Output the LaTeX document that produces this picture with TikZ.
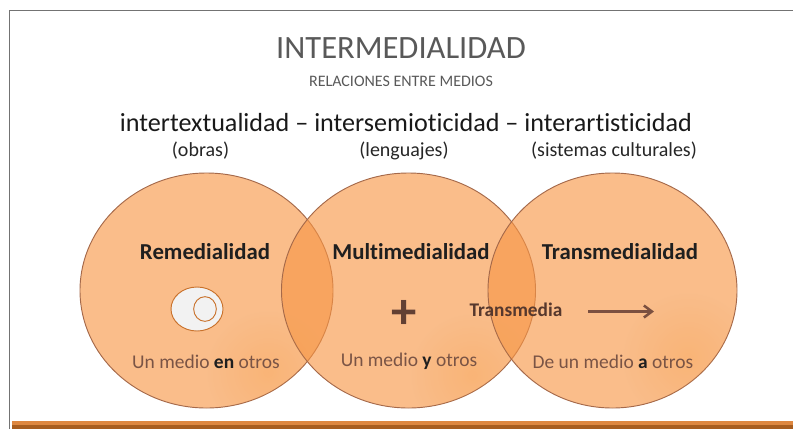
\documentclass[tikz,border=0pt]{standalone}
\usepackage{fontspec}
\setmainfont{Carlito}[Ligatures=NoCommon]
\usetikzlibrary{shapes.geometric,fadings,arrows.meta}
\definecolor{ringfill}{HTML}{F79646}
\definecolor{ringline}{HTML}{A5694A}
\definecolor{blotcol}{HTML}{F59A3C}
\definecolor{graytxt}{HTML}{595959}
\definecolor{darktxt}{HTML}{1F1F1F}
\definecolor{browntxt}{HTML}{7A5445}
\definecolor{arrowcol}{HTML}{7B5040}
\tikzfading[name=blotfade,inner color=transparent!75,outer color=transparent!100]
\newcommand{\pxsize}[1]{\fontsize{#1}{#1}\selectfont}
\tikzset{
	ring/.style={ellipse,draw=ringline,line width=0.7pt,fill=ringfill,fill opacity=0.63,inner sep=0pt},
	heading/.style={anchor=base,text=darktxt,font=\pxsize{17.1}\bfseries},
	caption/.style={anchor=base,text=browntxt,font=\pxsize{14.6}},
	sub/.style={anchor=base,text=black!85,font=\pxsize{15}}
}

\begin{document}
\begin{tikzpicture}[x=0.75pt,y=-0.75pt]
	\useasboundingbox (0,0) rectangle (793,429);

	\coordinate (framea) at (9.5,429);
	\coordinate (frameb) at (9.5,10.5);
	\coordinate (framec) at (793,10.5);
	\draw [color=black!55,line width=0.7pt] (framea) -- (frameb) -- (framec);

	\fill [color=ringfill!90!black] (12,421) rectangle (793,425);
	\fill [color=ringline!50!orange!80!black] (12,425) rectangle (793,429);

	\node [ring,minimum width=189.75pt,minimum height=176.25pt] (remedia) at (206.5,290.5) {};
	\node [ring,minimum width=190.5pt,minimum height=176.25pt] (multi) at (408.5,290.5) {};
	\node [ring,minimum width=186.75pt,minimum height=176.25pt] (trans) at (612.5,290.5) {};

	\begin{scope}
		\clip (206.5,290.5) ellipse (126.5 and 117.5);
		\fill [color=blotcol,path fading=blotfade] (268,372) circle (62);
	\end{scope}
	\begin{scope}
		\clip (408.5,290.5) ellipse (127 and 117.5);
		\fill [color=blotcol,path fading=blotfade] (472,375) circle (62);
	\end{scope}
	\begin{scope}
		\clip (612.5,290.5) ellipse (124.5 and 117.5);
		\fill [color=blotcol,path fading=blotfade] (688,358) circle (66);
	\end{scope}

	\node [ellipse,draw=ringline!60!orange,fill=black!5,line width=0.7pt,minimum width=39pt,minimum height=33pt,inner sep=0pt] (outer) at (197,309) {};
	\node [ellipse,draw=ringline!60!orange,line width=0.7pt,minimum width=17pt,minimum height=18.5pt,inner sep=0pt] (inner) at (205,309) {};

	\node [anchor=base,text=graytxt,font=\pxsize{24.4}] (title) at (401,58) {INTERMEDIALIDAD};
	\node [anchor=base,text=graytxt,font=\pxsize{12}] (subtitle) at (401,86) {RELACIONES ENTRE MEDIOS};
	\node [anchor=base,text=black!90,font=\pxsize{19.6}] (line) at (406,131) {intertextualidad – intersemioticidad – interartisticidad};
	\node [sub] (obras) at (200.5,156) {(obras)};
	\node [sub] (lenguajes) at (404,156) {(lenguajes)};
	\node [sub] (sistemas) at (614,156) {(sistemas culturales)};

	\node [heading] (hremedia) at (205,259) {Remedialidad};
	\node [heading] (hmulti) at (411,259) {Multimedialidad};
	\node [heading] (htrans) at (620,259) {Transmedialidad};

	\node [anchor=base,text=arrowcol!80!black,font=\pxsize{38}\bfseries] (plus) at (404,328) {+};
	\node [anchor=base,text=arrowcol!70!black,font=\pxsize{14.5}\bfseries] (transmedia) at (516,316) {Transmedia};
	\coordinate (arrowa) at (588,311.5);
	\coordinate (arrowb) at (654,311.5);
	\draw [-{Straight Barb[length=6pt,width=9pt]},color=arrowcol,line width=1.9pt] (arrowa) -- (arrowb);

	\node [caption] (cremedia) at (206,368) {Un medio \textcolor{darktxt}{\textbf{en}} otros};
	\node [caption] (cmulti) at (409,366) {Un medio \textcolor{darktxt}{\textbf{y}} otros};
	\node [caption] (ctrans) at (613,368) {De un medio \textcolor{darktxt}{\textbf{a}} otros};
\end{tikzpicture}
\end{document}
